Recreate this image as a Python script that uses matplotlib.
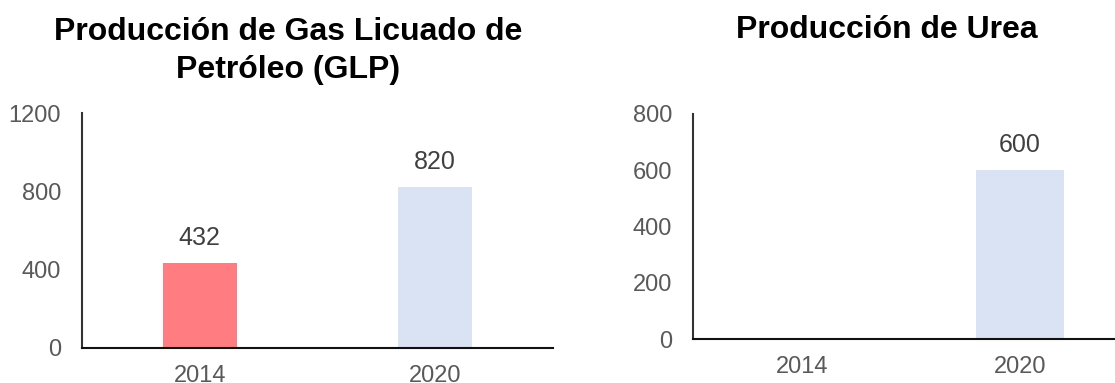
import matplotlib
matplotlib.use("Agg")
import matplotlib.pyplot as plt

plt.rcParams['font.family'] = ['Liberation Sans', 'DejaVu Sans']

W, H = 1115, 383

glp_categories = ["2014", "2020"]
glp_values = [432, 820]
glp_colors = ["#FF7C80", "#DAE3F3"]
glp_yticks = [0, 400, 800, 1200]

urea_categories = ["2014", "2020"]
urea_values = [0, 600]
urea_colors = ["#FF7C80", "#DAE3F3"]
urea_yticks = [0, 200, 400, 600, 800]

fig = plt.figure(figsize=(W / 100, H / 100), dpi=100)


def px_axes(left, top, right, bottom):
    return fig.add_axes([left / W, (H - bottom) / H, (right - left) / W, (bottom - top) / H])


def style(ax, cats, vals, colors, yticks, width):
    x = list(range(len(cats)))
    ax.bar(x, vals, width=width, color=colors)
    ax.set_xlim(-0.5, len(cats) - 0.5)
    ax.set_ylim(yticks[0], yticks[-1])
    ax.set_yticks(yticks)
    ax.set_yticklabels([str(t) for t in yticks])
    ax.set_xticks(x)
    ax.set_xticklabels(cats)
    for s in ["top", "right"]:
        ax.spines[s].set_visible(False)
    ax.spines["left"].set_color("#333333")
    ax.spines["left"].set_linewidth(1.5)
    ax.spines["bottom"].set_color("#111111")
    ax.spines["bottom"].set_linewidth(1.5)
    ax.tick_params(axis="y", length=0, pad=15, labelsize=17, labelcolor="#595959")
    ax.tick_params(axis="x", length=0, pad=12, labelsize=17, labelcolor="#595959")
    for xi, v in zip(x, vals):
        if v > 0:
            ax.annotate(str(v), (xi, v), xytext=(0, 18), textcoords="offset points",
                        ha="center", va="center", fontsize=18, color="#404040")
    ax.patch.set_alpha(0)


ax1 = px_axes(82, 113, 553, 348)
style(ax1, glp_categories, glp_values, glp_colors, glp_yticks, 0.314)

ax2 = px_axes(693, 114, 1129, 339)
style(ax2, urea_categories, urea_values, urea_colors, urea_yticks, 0.40)

fig.text(288.5 / W, 1 - 39.5 / H, "Producción de Gas Licuado de", ha="center", va="baseline",
         fontsize=23, fontweight="bold", color="#000000")
fig.text(288.5 / W, 1 - 78 / H, "Petróleo (GLP)", ha="center", va="baseline",
         fontsize=23, fontweight="bold", color="#000000")
fig.text(886.5 / W, 1 - 38.5 / H, "Producción de Urea", ha="center", va="baseline",
         fontsize=23, fontweight="bold", color="#000000")

fig.savefig("out.png", dpi=100)
